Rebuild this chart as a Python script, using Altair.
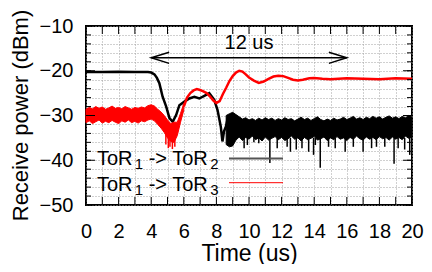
import altair as alt
import pandas as pd

# ---------------- data ----------------
# black trace (ToR1 -> ToR2), smooth part
black_x = [0, 1, 2, 3, 3.8, 4.0, 4.2, 4.35, 4.5, 4.7, 4.92, 5.12, 5.32, 5.53, 5.73,
           6.04, 6.34, 6.65, 6.95, 7.26, 7.56, 7.87, 8.07, 8.27, 8.37, 8.47, 8.58, 8.7]
black_y = [-20.3, -20.3, -20.2, -20.3, -20.3, -20.4, -20.8, -21.6, -22.8, -25.8, -28.0,
           -30.6, -31.4, -29.9, -27.7, -26.9, -26.2, -25.8, -26.2, -25.6, -25.0, -26.5,
           -28.8, -32.5, -35.8, -33.5, -32.5, -30.5]

# black trace, noisy part: envelope (top / dense bottom)
bn_x = [8.6, 8.8, 9.0, 9.2, 9.4, 9.6, 9.8, 10.0, 10.2, 10.4, 10.6, 10.8, 11.0, 11.2,
        11.4, 11.6, 11.8, 12.0, 12.2, 12.4, 12.6, 12.8, 13.0, 13.2, 13.4, 13.6, 13.8,
        14.0, 14.2, 14.4, 14.6, 14.8, 15.0, 15.2, 15.4, 15.6, 15.8, 16.0, 16.2, 16.4,
        16.6, 16.8, 17.0, 17.2, 17.4, 17.6, 17.8, 18.0, 18.2, 18.4, 18.6, 18.8, 19.0,
        19.2, 19.4, 19.6, 19.8, 20.0]
bn_hi = [-30.0, -29.6, -29.3, -29.8, -30.3, -30.8, -30.5, -31.0, -30.7, -31.1, -30.6,
         -31.0, -30.5, -30.9, -30.6, -31.1, -30.7, -31.0, -30.5, -30.9, -30.7, -31.2,
         -30.8, -30.4, -30.9, -30.6, -31.1, -30.7, -30.3, -30.9, -31.2, -30.8, -31.1,
         -30.6, -31.0, -30.8, -30.4, -30.9, -30.6, -30.2, -30.8, -30.5, -30.9, -30.4,
         -30.7, -30.2, -30.6, -30.3, -30.8, -30.4, -30.1, -30.6, -30.3, -30.7, -30.2,
         -30.5, -30.0, -30.4]
bn_lo = [-36.5, -37.0, -36.8, -35.5, -34.8, -35.6, -34.9, -35.3, -34.6, -35.4, -35.0,
         -35.7, -34.8, -35.5, -35.1, -34.7, -35.4, -34.9, -35.6, -35.2, -34.6, -35.3,
         -35.0, -35.7, -34.9, -35.4, -35.1, -34.7, -35.5, -35.2, -34.8, -35.6, -35.0,
         -35.4, -34.7, -35.3, -35.0, -35.6, -34.9, -35.3, -34.6, -35.2, -35.5, -34.8,
         -35.3, -34.9, -35.4, -34.7, -35.2, -34.9, -35.5, -34.8, -35.3, -34.9, -35.4,
         -34.6, -35.1, -34.8]
# downward spikes of the black noise
bs_x = [9.7, 9.9, 10.3, 10.6, 11.28, 11.73, 12.34, 12.54, 12.9, 13.25, 13.66, 13.96,
        14.07, 14.37, 14.88, 15.29, 15.9, 16.4, 17.0, 17.52, 17.82, 18.33, 18.9,
        19.15, 19.55, 19.86]
bs_y = [-37.3, -36.6, -36.0, -36.2, -40.6, -37.3, -37.0, -38.1, -37.6, -37.3, -38.1,
        -38.8, -36.6, -41.7, -37.0, -37.3, -38.1, -37.0, -38.1, -37.3, -37.0, -37.0,
        -40.8, -37.3, -37.6, -38.8]

# red trace (ToR1 -> ToR3), noisy part: envelope
rn_x = [0, 0.2, 0.4, 0.6, 0.8, 1.0, 1.2, 1.4, 1.6, 1.8, 2.0, 2.2, 2.4, 2.6, 2.8, 3.0,
        3.2, 3.4, 3.6, 3.8, 4.0, 4.2, 4.4, 4.6, 4.8, 5.0, 5.2, 5.4, 5.6, 5.8, 6.0]
rn_hi = [-28.6, -28.2, -28.5, -28.0, -28.4, -28.1, -28.6, -28.3, -27.9, -28.4, -28.2,
         -28.5, -28.0, -28.3, -28.6, -28.2, -28.4, -28.1, -28.3, -27.8, -27.6, -27.9,
         -28.6, -29.2, -30.0, -31.0, -31.8, -31.5, -31.5, -29.5, -27.3]
rn_lo = [-31.6, -31.2, -31.8, -31.4, -31.0, -31.7, -31.3, -31.6, -31.1, -31.5, -31.8,
         -31.2, -31.5, -31.0, -31.6, -31.3, -31.7, -31.2, -31.4, -31.0, -30.8, -31.2,
         -32.0, -32.8, -33.8, -35.0, -35.8, -36.0, -34.5, -31.5, -28.8]
# downward spikes of the red noise
rs_x = [4.9, 5.05, 5.15, 5.3, 5.45]
rs_y = [-36.5, -37.3, -37.0, -37.5, -37.0]

# red trace, smooth part
red_x = [6.0, 6.2, 6.4, 6.6, 6.8, 7.0, 7.2, 7.4, 7.6, 7.8, 8.0, 8.2, 8.4, 8.6, 8.8, 9.0,
         9.2, 9.4, 9.6, 9.8, 10.0, 10.3, 10.6, 10.9, 11.2, 11.5, 11.8, 12.1, 12.4, 12.7,
         13.0, 13.3, 13.7, 14.0, 14.5, 15.0, 15.5, 16.0, 17.0, 18.0, 19.0, 20.0]
red_y = [-28.0, -26.0, -25.0, -24.4, -24.1, -24.3, -24.6, -25.0, -25.7, -26.6, -27.2,
         -26.8, -25.2, -23.8, -22.3, -21.2, -20.4, -20.0, -20.2, -20.8, -21.5, -22.2,
         -22.7, -22.4, -21.8, -21.3, -21.1, -21.2, -21.6, -22.0, -22.2, -22.0, -21.7,
         -21.6, -21.8, -21.9, -21.8, -21.7, -21.8, -21.9, -21.7, -21.8]

# annotation
arrow_x = [4, 16]
arrow_y = -17.1
note_text = "12 us"
note_x = 10
note_y = -15.2

# legend texts (gnuplot style with subscripts): base, subscript, base, subscript
leg_parts_1 = ["ToR", "1", "-> ToR", "2"]
leg_parts_2 = ["ToR", "1", "-> ToR", "3"]

x_ticks = list(range(0, 21))
y_ticks = list(range(-50, -9, 2))
y_major = list(range(-50, -9, 10))

W, H = 326, 179
FONT = "Liberation Sans"

xs = alt.Scale(domain=[0, 20], nice=False, zero=False)
ys = alt.Scale(domain=[-50, -10], nice=False, zero=False)

AX = dict(grid=True, gridDash=[1, 2], gridColor="#a0a0a0", gridWidth=1,
          ticks=False, domain=False, labelFlush=False, labelOverlap=False,
          labelFontSize=20, labelColor="black", labelFont=FONT,
          titleFontWeight="normal", titleColor="black", titleFont=FONT)
x_axis = alt.Axis(values=x_ticks,
                  labelExpr="datum.value % 2 == 0 ? datum.label : ''",
                  labelPadding=16, title="Time (us)", titleFontSize=23,
                  titleY=55, titleBaseline="alphabetic", **AX)
y_axis = alt.Axis(values=y_ticks,
                  labelExpr="datum.value % 10 == 0 ? datum.label : ''",
                  labelPadding=13, title="Receive power (dBm)", titleFontSize=22,
                  titleX=-66, titleY=89, titleBaseline="middle", **AX)

def X(field="x"):
    return alt.X(f"{field}:Q", scale=xs, axis=x_axis)

def Y(field="y"):
    return alt.Y(f"{field}:Q", scale=ys, axis=y_axis)

# ---------------- layers ----------------
black_df = pd.DataFrame({"x": black_x, "y": black_y})
bn_df = pd.DataFrame({"x": bn_x, "hi": bn_hi, "lo": bn_lo})
bs_df = pd.DataFrame({"x": bs_x, "y": bs_y})
rn_df = pd.DataFrame({"x": rn_x, "hi": rn_hi, "lo": rn_lo})
rs_df = pd.DataFrame({"x": rs_x, "y": rs_y})
red_df = pd.DataFrame({"x": red_x, "y": red_y})

black_line = alt.Chart(black_df).mark_line(color="black", strokeWidth=2.5).encode(
    x=X(), y=Y())

black_band = alt.Chart(bn_df).mark_area(color="black", opacity=1, stroke="black",
                                        strokeWidth=1).encode(
    x=X(), y=Y("hi"), y2="lo:Q")

black_spk = alt.Chart(bs_df).mark_rule(color="black", strokeWidth=1.5).encode(
    x=X(), y=Y(), y2=alt.datum(-35.0))

red_band = alt.Chart(rn_df).mark_area(color="#ff0000", opacity=1, stroke="#ff0000",
                                      strokeWidth=1).encode(
    x=X(), y=Y("hi"), y2="lo:Q")

red_spk = alt.Chart(rs_df).mark_rule(color="#ff0000", strokeWidth=1.5).encode(
    x=X(), y=Y(), y2=alt.datum(-34.0))

red_line = alt.Chart(red_df).mark_line(color="#ff0000", strokeWidth=2.5).encode(
    x=X(), y=Y())

# legend (gnuplot style: label first, sample after)
one = pd.DataFrame({"a": [0]})
FS, SFS = 20, 15
w_tor = (0.611 + 0.556 + 0.722) * FS          # "ToR"
w_sub = 0.556 * SFS                            # subscript digit
w_space = 0.278 * FS                           # space (leading spaces are dropped)
w_mid = (0.333 + 0.584 + 0.278 + 0.611 + 0.556 + 0.722) * FS   # "-> ToR"


def legend_text(parts, base_y):
    x0 = 11
    pos = [x0,
           x0 + w_tor,
           x0 + w_tor + w_sub + w_space,
           x0 + w_tor + w_sub + w_space + w_mid]
    out = []
    for i, (txt, xp) in enumerate(zip(parts, pos)):
        sub = i % 2 == 1
        out.append(
            alt.Chart(one).mark_text(text=txt, align="left", baseline="alphabetic",
                                     fontSize=SFS if sub else FS, color="black").encode(
                x=alt.value(xp), y=alt.value(base_y + (4 if sub else 0))))
    return out


leg_t1 = legend_text(leg_parts_1, 139)
leg_t2 = legend_text(leg_parts_2, 165)
leg_l1 = alt.Chart(one).mark_rule(color="#555555", strokeWidth=2).encode(
    x=alt.value(143), x2=alt.value(197), y=alt.value(132.5))
leg_l2 = alt.Chart(one).mark_rule(color="#ff0000", strokeWidth=1).encode(
    x=alt.value(143), x2=alt.value(197), y=alt.value(156.7))

# annotation arrow and text
arr_df = pd.DataFrame({"x": arrow_x, "y": [arrow_y, arrow_y]})
arrow = alt.Chart(arr_df).mark_line(color="black", strokeWidth=1.5).encode(
    x=X(), y=Y())
head_dx = 1.1
head_dy = 1.25
headL = pd.DataFrame({"x": [arrow_x[0] + head_dx, arrow_x[0], arrow_x[0] + head_dx],
                      "y": [arrow_y + head_dy, arrow_y, arrow_y - head_dy],
                      "o": [0, 1, 2]})
headR = pd.DataFrame({"x": [arrow_x[1] - head_dx, arrow_x[1], arrow_x[1] - head_dx],
                      "y": [arrow_y + head_dy, arrow_y, arrow_y - head_dy],
                      "o": [0, 1, 2]})
hL = alt.Chart(headL).mark_line(color="black", strokeWidth=1.5).encode(
    x=X(), y=Y(), order="o:Q")
hR = alt.Chart(headR).mark_line(color="black", strokeWidth=1.5).encode(
    x=X(), y=Y(), order="o:Q")
note = alt.Chart(pd.DataFrame({"x": [note_x], "y": [note_y], "t": [note_text]})).mark_text(
    align="center", baseline="alphabetic", fontSize=20, color="black").encode(
    x=X(), y=Y(), text="t:N")

# inward ticks on all four sides
xt_df = pd.DataFrame({"x": x_ticks})
yt_df = pd.DataFrame({"y": y_ticks})
ytm_df = pd.DataFrame({"y": y_major})
xt_b = alt.Chart(xt_df).mark_rule(color="black", strokeWidth=1).encode(
    x=X(), y=alt.value(H), y2=alt.value(H - 8))
xt_t = alt.Chart(xt_df).mark_rule(color="black", strokeWidth=1).encode(
    x=X(), y=alt.value(0), y2=alt.value(8))
yt_l = alt.Chart(yt_df).mark_rule(color="black", strokeWidth=1).encode(
    y=Y(), x=alt.value(0), x2=alt.value(5))
yt_r = alt.Chart(yt_df).mark_rule(color="black", strokeWidth=1).encode(
    y=Y(), x=alt.value(W), x2=alt.value(W - 5))
ytm_l = alt.Chart(ytm_df).mark_rule(color="black", strokeWidth=1).encode(
    y=Y(), x=alt.value(0), x2=alt.value(9))
ytm_r = alt.Chart(ytm_df).mark_rule(color="black", strokeWidth=1).encode(
    y=Y(), x=alt.value(W), x2=alt.value(W - 9))

chart = alt.layer(
    black_line, black_band, black_spk, red_band, red_spk, red_line,
    leg_l1, leg_l2, *leg_t1, *leg_t2, arrow, hL, hR, note,
    xt_b, xt_t, yt_l, yt_r, ytm_l, ytm_r
).properties(
    width=W, height=H,
    autosize=alt.AutoSizeParams(type="none"),
    padding={"left": 78, "top": 18, "right": 12, "bottom": 59},
).configure(font=FONT).configure_view(
    stroke="black", strokeWidth=2
)

chart.save("out.html", embed_options={"renderer": "svg", "actions": False})
